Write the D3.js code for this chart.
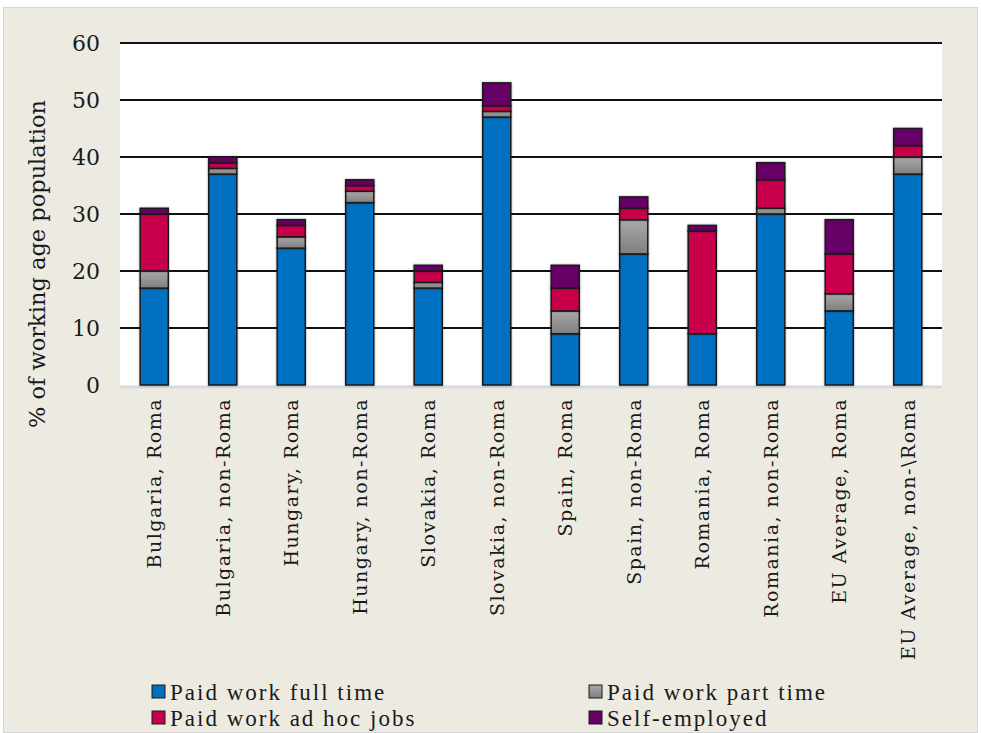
<!DOCTYPE html>
<html>
<head>
<meta charset="utf-8">
<script src="https://cdn.jsdelivr.net/npm/d3@7"></script>
<style>
  html, body { margin: 0; padding: 0; background: #ffffff; }
  svg { display: block; }
</style>
</head>
<body>
<div id="chart"></div>
<script>
const categories = [
  "Bulgaria, Roma", "Bulgaria, non-Roma", "Hungary, Roma", "Hungary, non-Roma",
  "Slovakia, Roma", "Slovakia, non-Roma", "Spain, Roma", "Spain, non-Roma",
  "Romania, Roma", "Romania, non-Roma", "EU Average, Roma", "EU Average, non-\\Roma"
];
const seriesNames = ["Paid work full time", "Paid work part time", "Paid work ad hoc jobs", "Self-employed"];
const fullTime = [17, 37, 24, 32, 17, 47, 9, 23, 9, 30, 13, 37];
const partTime = [3, 1, 2, 2, 1, 1, 4, 6, 0, 1, 3, 3];
const adHoc = [10, 1, 2, 1, 2, 1, 4, 2, 18, 5, 7, 2];
const selfEmployed = [1, 1, 1, 1, 1, 4, 4, 2, 1, 3, 6, 3];
const yTicks = [0, 10, 20, 30, 40, 50, 60];

const width = 981;
const height = 733;
const margin = { top: 43, right: 39, bottom: 348, left: 120 };
const serif = "'DejaVu Serif', serif";

const svg = d3.select("#chart").append("svg")
  .attr("width", width)
  .attr("height", height);

const defs = svg.append("defs");
const grad = defs.append("linearGradient")
  .attr("id", "grayGrad").attr("x1", 0).attr("y1", 0).attr("x2", 0).attr("y2", 1);
grad.append("stop").attr("offset", "0%").attr("stop-color", "#a9a9a9");
grad.append("stop").attr("offset", "100%").attr("stop-color", "#7f7f7f");

const colors = ["#0070c0", "url(#grayGrad)", "#c8004c", "#660066"];

// background frame
svg.append("rect").attr("width", width).attr("height", height).attr("fill", "#ffffff");
svg.append("rect")
  .attr("x", 3.5).attr("y", 7.5)
  .attr("width", width - 7).attr("height", height - 8)
  .attr("fill", "#edebe1")
  .attr("stroke", "#d6d6d6");

const x = d3.scaleBand()
  .domain(categories)
  .range([margin.left, width - margin.right])
  .paddingInner(0.59)
  .paddingOuter(0.295);

const y = d3.scaleLinear()
  .domain([0, 60])
  .range([height - margin.bottom, margin.top]);

// plot area
svg.append("rect")
  .attr("x", margin.left).attr("y", margin.top)
  .attr("width", width - margin.left - margin.right)
  .attr("height", height - margin.top - margin.bottom + 2)
  .attr("fill", "#ffffff");
svg.append("line")
  .attr("x1", margin.left).attr("x2", width - margin.right)
  .attr("y1", y(0) + 2).attr("y2", y(0) + 2)
  .attr("stroke", "#d9d9d9").attr("stroke-width", 3);

// gridlines
svg.append("g")
  .selectAll("line")
  .data(yTicks.filter(d => d > 0))
  .join("line")
  .attr("x1", margin.left).attr("x2", width - margin.right)
  .attr("y1", d => y(d)).attr("y2", d => y(d))
  .attr("stroke", "#111").attr("stroke-width", 2);

// y axis
const yAxis = svg.append("g")
  .attr("transform", `translate(${margin.left - 20},0)`)
  .call(d3.axisLeft(y).tickValues(yTicks).tickSize(0).tickPadding(0));
yAxis.select(".domain").remove();
yAxis.selectAll("text")
  .attr("font-family", serif)
  .attr("font-size", 22)
  .attr("fill", "#1a1a1a");

svg.append("text")
  .attr("transform", `translate(45, 264) rotate(-90)`)
  .attr("text-anchor", "middle")
  .attr("font-family", serif)
  .attr("font-size", 22.5)
  .attr("fill", "#1a1a1a")
  .text("% of working age population");

// stacked bars
const table = categories.map((c, i) => ({
  category: c,
  [seriesNames[0]]: fullTime[i],
  [seriesNames[1]]: partTime[i],
  [seriesNames[2]]: adHoc[i],
  [seriesNames[3]]: selfEmployed[i]
}));
const stacked = d3.stack().keys(seriesNames)(table);

const layers = svg.append("g")
  .selectAll("g")
  .data(stacked)
  .join("g")
  .attr("fill", (d, i) => colors[i]);

layers.selectAll("rect")
  .data(d => d.filter(s => s[1] - s[0] > 0))
  .join("rect")
  .attr("x", d => x(d.data.category))
  .attr("y", d => y(d[1]))
  .attr("width", x.bandwidth())
  .attr("height", d => y(d[0]) - y(d[1]))
  .attr("stroke", "#1a1a1a")
  .attr("stroke-width", 1.5)
  .style("filter", "drop-shadow(0 0 1px rgba(0,0,0,0.35))");

// category labels
svg.append("g")
  .selectAll("text")
  .data(categories)
  .join("text")
  .attr("transform", d => `translate(${x(d) + x.bandwidth() / 2 + 7}, ${y(0) + 13}) rotate(-90)`)
  .attr("text-anchor", "end")
  .attr("font-family", serif)
  .attr("font-size", 19)
  .attr("letter-spacing", 1.5)
  .attr("fill", "#1a1a1a")
  .text(d => d);

// legend
const legendItems = [
  { name: seriesNames[0], color: colors[0], lx: 152, ly: 692 },
  { name: seriesNames[1], color: colors[1], lx: 589, ly: 692 },
  { name: seriesNames[2], color: colors[2], lx: 152, ly: 718 },
  { name: seriesNames[3], color: colors[3], lx: 589, ly: 718 }
];
const legend = svg.append("g")
  .selectAll("g")
  .data(legendItems)
  .join("g")
  .attr("transform", d => `translate(${d.lx}, ${d.ly})`);
legend.append("rect")
  .attr("x", 0).attr("y", -7)
  .attr("width", 13).attr("height", 13)
  .attr("fill", d => d.color)
  .attr("stroke", "#1a1a1a")
  .attr("stroke-width", 1);
legend.append("text")
  .attr("x", 18).attr("y", 8)
  .attr("font-family", "'Liberation Serif', serif")
  .attr("font-size", 23)
  .attr("letter-spacing", 2)
  .attr("fill", "#1a1a1a")
  .text(d => d.name);
</script>
</body>
</html>
